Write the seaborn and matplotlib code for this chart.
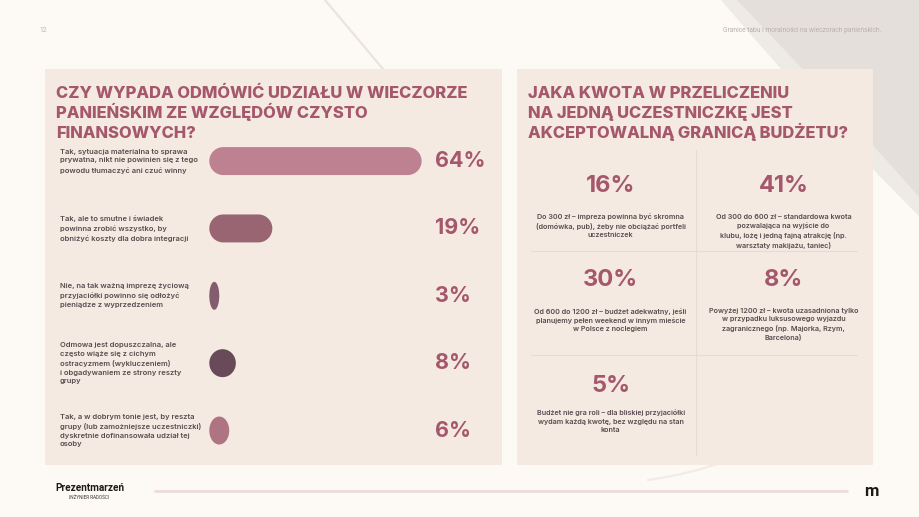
import numpy as np
import pandas as pd
import matplotlib
matplotlib.use("Agg")
import matplotlib.pyplot as plt
from matplotlib.patches import Polygon, Rectangle
import seaborn as sns

# ---------------- data ----------------
left_title = ["CZY WYPADA ODMÓWIĆ UDZIAŁU W WIECZORZE",
              "PANIEŃSKIM ZE WZGLĘDÓW CZYSTO",
              "FINANSOWYCH?"]
left_labels = [
    "Tak, sytuacja materialna to sprawa\nprywatna, nikt nie powinien się z tego\npowodu tłumaczyć ani czuć winny",
    "Tak, ale to smutne i świadek\npowinna zrobić wszystko, by\nobniżyć koszty dla dobra integracji",
    "Nie, na tak ważną imprezę życiową\nprzyjaciółki powinno się odłożyć\npieniądze z wyprzedzeniem",
    "Odmowa jest dopuszczalna, ale\nczęsto wiąże się z cichym\nostracyzmem (wykluczeniem)\ni obgadywaniem ze strony reszty\ngrupy",
    "Tak, a w dobrym tonie jest, by reszta\ngrupy (lub zamożniejsze uczestniczki)\ndyskretnie dofinansowała udział tej\nosoby",
]
left_values = [64, 19, 3, 8, 6]
left_colors = ["#C8778C", "#A35C6D", "#8A5570", "#6E4558", "#B96A7D"]

right_title = ["JAKA KWOTA W PRZELICZENIU",
               "NA JEDNĄ UCZESTNICZKĘ JEST",
               "AKCEPTOWALNĄ GRANICĄ BUDŻETU?"]
right_values = [16, 41, 30, 8, 5]
right_labels = [
    "Do 300 zł – impreza powinna być skromna\n(domówka, pub), żeby nie obciążać portfeli\nuczestniczek",
    "Od 300 do 600 zł – standardowa kwota\npozwalająca na wyjście do\nklubu, lożę i jedną fajną atrakcję (np.\nwarsztaty makijażu, taniec)",
    "Od 600 do 1200 zł – budżet adekwatny, jeśli\nplanujemy pełen weekend w innym mieście\nw Polsce z noclegiem",
    "Powyżej 1200 zł – kwota uzasadniona tylko\nw przypadku luksusowego wyjazdu\nzagranicznego (np. Majorka, Rzym,\nBarcelona)",
    "Budżet nie gra roli – dla bliskiej przyjaciółki\nwydam każdą kwotę, bez względu na stan\nkonta",
]

page_number = "12"
header_text = "Granice tabu i moralności na wieczorach panieńskich."
logo_text = "Prezentmarzeń"
logo_sub = "INŻYNIER RADOŚCI"

# ---------------- style ----------------
W, H = 919, 517
PAGE = "#FDF9F5"
PANEL = "#F4EAE1"
ACCENT = "#A5576B"
TEXT = "#5B4A4F"

sns.set_theme(style="white")
plt.rcParams["font.family"] = ["Inter", "DejaVu Sans"]

fig = plt.figure(figsize=(W / 100, H / 100), dpi=100, facecolor=PAGE)

# background / decoration axes in pixel coordinates
bg = fig.add_axes([0, 0, 1, 1])
bg.set_xlim(0, W)
bg.set_ylim(H, 0)
bg.axis("off")
bg.set_facecolor(PAGE)


def bezier(p0, p1, p2, n=80):
    t = np.linspace(0, 1, n)[:, None]
    p0, p1, p2 = map(np.array, (p0, p1, p2))
    return (1 - t) ** 2 * p0 + 2 * (1 - t) * t * p1 + t ** 2 * p2


outer = bezier((721, 0), (834, 132), (919, 216))
bg.add_patch(Polygon(np.vstack([outer, [(919, 0)]]), closed=True,
                     fc="#EEEAE6", ec="none", zorder=0))
inner = bezier((737, 0), (850, 118), (919, 197))
bg.add_patch(Polygon(np.vstack([inner, [(919, 0)]]), closed=True,
                     fc="#E4DFDB", ec="none", zorder=0))
bg.plot([325, 388], [0, 75], color="#E9E4DF", lw=1.6, zorder=0)
arc = bezier((648, 480), (690, 474), (722, 462))
bg.plot(arc[:, 0], arc[:, 1], color="#F1ECE7", lw=1.6, zorder=0)

# panels
bg.add_patch(Rectangle((45, 69), 457, 396, fc=PANEL, ec="none", zorder=1))
bg.add_patch(Rectangle((517, 69), 356, 396, fc=PANEL, ec="none", zorder=1))

# header
bg.text(39, 30, page_number, fontsize=4.8, color="#B9B1AC", va="center",
        family=["Roboto", "DejaVu Sans"], zorder=3)
bg.text(881, 30, header_text, fontsize=4.8, color="#B9B1AC", va="center",
        ha="right", family=["Roboto", "DejaVu Sans"], zorder=3)

# titles
for k, line in enumerate(left_title):
    bg.text(56, 98.3 + 19.8 * k, line, fontsize=11.9, fontweight="heavy",
            color=ACCENT, va="baseline", ha="left", zorder=3)
for k, line in enumerate(right_title):
    bg.text(528.5, 98.3 + 19.7 * k, line, fontsize=11.9, fontweight="heavy",
            color=ACCENT, va="baseline", ha="left", zorder=3)

# footer
bg.plot([155, 847], [491, 491], color="#EDDCD8", lw=2, solid_capstyle="round", zorder=2)
bg.text(55, 488, logo_text, fontsize=7.2, fontweight="bold", color="#1E1A1A", va="center",
        family=["Liberation Sans Narrow", "Roboto", "DejaVu Sans"], zorder=3)
bg.text(89, 497, logo_sub, fontsize=3.3, color="#3A3333", va="center", ha="center",
        family=["Roboto", "DejaVu Sans"], zorder=3)
bg.text(871, 492, "m", fontsize=12, fontweight="bold", color="#1E1A1A", va="center",
        ha="center", family=["Roboto", "DejaVu Sans"], zorder=3)

# ---------------- left chart: rounded horizontal bars ----------------
bar_left, bar_right = 209.3, 421.6
row_top, row_bot = 127.4, 464.2
ax = fig.add_axes([bar_left / W, 1 - row_bot / H,
                   (bar_right - bar_left) / W, (row_bot - row_top) / H])
df = pd.DataFrame({"label": left_labels, "value": left_values})
sns.barplot(data=df, x="value", y="label", hue="label", palette=left_colors,
            orient="h", width=0.415, legend=False, ax=ax, zorder=3)
ax.set_xlim(0, max(left_values))
ax.set_ylim(len(left_values) - 0.5, -0.5)
ax.axis("off")
ax.patch.set_alpha(0)

bb = ax.get_window_extent()
sx = bb.width / (ax.get_xlim()[1] - ax.get_xlim()[0])
sy = bb.height / abs(ax.get_ylim()[1] - ax.get_ylim()[0])
for p in list(ax.patches):
    x0, y0, w, h = p.get_x(), p.get_y(), p.get_width(), p.get_height()
    fc = p.get_facecolor()
    p.remove()
    rx = min(h * sy / 2, w * sx / 2) / sx
    ry = h / 2
    yc = y0 + h / 2
    t1 = np.linspace(-np.pi / 2, np.pi / 2, 60)
    t2 = np.linspace(np.pi / 2, 3 * np.pi / 2, 60)
    right = np.c_[x0 + w - rx + rx * np.cos(t1), yc + ry * np.sin(t1)]
    left = np.c_[x0 + rx + rx * np.cos(t2), yc + ry * np.sin(t2)]
    ax.add_patch(Polygon(np.vstack([right, left]), closed=True, fc=fc, ec="none", zorder=3))

ytr = ax.get_yaxis_transform()
lab_x = (60 - bar_left) / (bar_right - bar_left)
pct_x = (435 - bar_left) / (bar_right - bar_left)
for i, (lab, v) in enumerate(zip(left_labels, left_values)):
    ax.text(lab_x, i, lab, transform=ytr, ha="left", va="center", fontsize=5.45,
            fontweight="semibold", color=TEXT, linespacing=1.55, clip_on=False)
    ax.text(pct_x, i, f"{v}%", transform=ytr, ha="left", va="center",
            fontsize=15.5, fontweight="bold", color=ACCENT, clip_on=False)

# ---------------- right chart: grid of percentages ----------------
g_left, g_right, g_top, g_bot = 531, 858, 148, 458
rax = fig.add_axes([g_left / W, 1 - g_bot / H, (g_right - g_left) / W, (g_bot - g_top) / H])
rax.set_xlim(0, 2)
rax.set_ylim(3, 0)
rax.axis("off")
rax.patch.set_alpha(0)
line_c = "#E8DCD2"
rax.axvline(1.008, ymin=(g_bot - 455) / (g_bot - g_top), ymax=(g_bot - 150) / (g_bot - g_top),
            color=line_c, lw=0.8)
for r in (1, 2):
    rax.axhline(r, color=line_c, lw=0.8)

col_x = [0.487, 1.545]
pct_off = [0.368, 0.278, 0.304]
desc_off = [0.635, 0.545, 0.53]
for i, (v, lab) in enumerate(zip(right_values, right_labels)):
    r, c = divmod(i, 2)
    rax.text(col_x[c], r + pct_off[r], f"{v}%", ha="center", va="center",
             fontsize=17, fontweight="bold", color=ACCENT)
    rax.text(col_x[c], r + desc_off[r], lab, ha="center", va="top",
             fontsize=5.2, fontweight="semibold", color=TEXT, linespacing=1.45)

fig.savefig("out.png", dpi=100, facecolor=PAGE)
